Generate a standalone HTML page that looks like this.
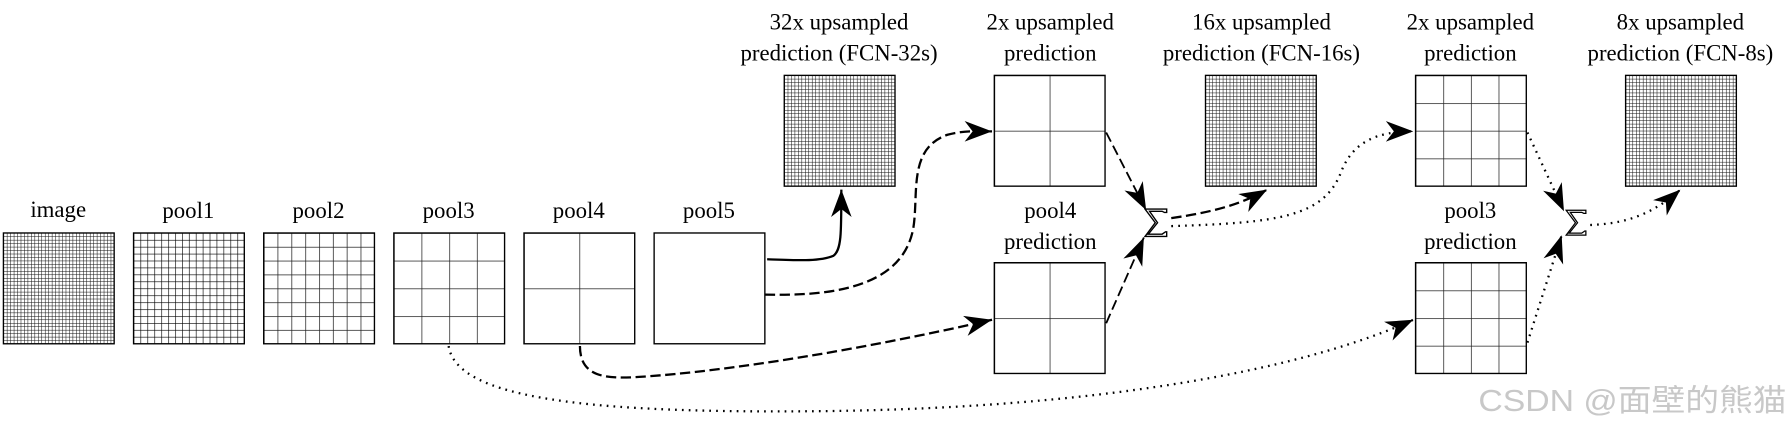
<!DOCTYPE html>
<html><head><meta charset="utf-8"><style>
html,body{margin:0;padding:0;background:#fff;}
svg{display:block}
text{font-family:"Liberation Serif","DejaVu Serif",serif;font-size:20px;fill:#000;text-anchor:middle}
</style></head><body>
<svg width="1790" height="426" viewBox="0 0 1568 373" preserveAspectRatio="none" xmlns="http://www.w3.org/2000/svg">
<defs>
<pattern id="g32" patternUnits="userSpaceOnUse" width="3.03125" height="3.03125"><path d="M0,0H3.03125M0,0V3.03125" stroke="#111" stroke-width="0.9" fill="none"/></pattern>
<pattern id="g16" patternUnits="userSpaceOnUse" width="6.0625" height="6.0625"><path d="M0,0H6.0625M0,0V6.0625" stroke="#000" stroke-width="1.1" fill="none"/></pattern>
<pattern id="g8" patternUnits="userSpaceOnUse" width="12.125" height="12.125"><path d="M0,0H12.125M0,0V12.125" stroke="#222" stroke-width="1.3" fill="none"/></pattern>
<pattern id="g4" patternUnits="userSpaceOnUse" width="24.25" height="24.25"><path d="M0,0H24.25M0,0V24.25" stroke="#222" stroke-width="1.3" fill="none"/></pattern>
<pattern id="g2" patternUnits="userSpaceOnUse" width="48.5" height="48.5"><path d="M0,0H48.5M0,0V48.5" stroke="#222" stroke-width="1.3" fill="none"/></pattern>
<marker id="ar" markerUnits="userSpaceOnUse" markerWidth="30" markerHeight="22" refX="24" refY="9" orient="auto"><path d="M0,0 L24,9 L0,18 L7,9 Z" fill="#000"/></marker>
<symbol id="sig" viewBox="0 0 22 26"><path d="M1,1 H20 V4 H18 L16,3 H5 L12,13 L4,23 H16 L19,21 H20 V25 H1 L10,13 Z" fill="#fff" stroke="#000" stroke-width="1.2"/></symbol>
</defs>

<g transform="translate(3,204)"><rect width="97" height="97" fill="url(#g32)"/><rect width="97" height="97" fill="none" stroke="#000" stroke-width="1.2"/></g>
<g transform="translate(117,204)"><rect width="97" height="97" fill="url(#g16)"/><rect width="97" height="97" fill="none" stroke="#000" stroke-width="1.2"/></g>
<g transform="translate(231,204)"><rect width="97" height="97" fill="url(#g8)"/><rect width="97" height="97" fill="none" stroke="#000" stroke-width="1.2"/></g>
<g transform="translate(345,204)"><rect width="97" height="97" fill="url(#g4)"/><rect width="97" height="97" fill="none" stroke="#000" stroke-width="1.2"/></g>
<g transform="translate(459,204)"><rect width="97" height="97" fill="url(#g2)"/><rect width="97" height="97" fill="none" stroke="#000" stroke-width="1.2"/></g>
<rect x="573" y="204" width="97" height="97" fill="none" stroke="#000" stroke-width="1.2"/>
<text x="51" y="190">image</text>
<text x="165" y="191">pool1</text>
<text x="279" y="191">pool2</text>
<text x="393" y="191">pool3</text>
<text x="507" y="191">pool4</text>
<text x="621" y="191">pool5</text>

<g transform="translate(687,66)"><rect width="97" height="97" fill="url(#g32)"/><rect width="97" height="97" fill="none" stroke="#000" stroke-width="1.2"/></g>
<g transform="translate(871,66)"><rect width="97" height="97" fill="url(#g2)"/><rect width="97" height="97" fill="none" stroke="#000" stroke-width="1.2"/></g>
<g transform="translate(871,230)"><rect width="97" height="97" fill="url(#g2)"/><rect width="97" height="97" fill="none" stroke="#000" stroke-width="1.2"/></g>
<g transform="translate(1056,66)"><rect width="97" height="97" fill="url(#g32)"/><rect width="97" height="97" fill="none" stroke="#000" stroke-width="1.2"/></g>
<g transform="translate(1240,66)"><rect width="97" height="97" fill="url(#g4)"/><rect width="97" height="97" fill="none" stroke="#000" stroke-width="1.2"/></g>
<g transform="translate(1240,230)"><rect width="97" height="97" fill="url(#g4)"/><rect width="97" height="97" fill="none" stroke="#000" stroke-width="1.2"/></g>
<g transform="translate(1424,66)"><rect width="97" height="97" fill="url(#g32)"/><rect width="97" height="97" fill="none" stroke="#000" stroke-width="1.2"/></g>

<text x="735" y="26">32x upsampled</text>
<text x="735" y="53">prediction (FCN-32s)</text>
<text x="920" y="26">2x upsampled</text>
<text x="920" y="53">prediction</text>
<text x="920" y="191">pool4</text>
<text x="920" y="218">prediction</text>
<text x="1105" y="26">16x upsampled</text>
<text x="1105" y="53">prediction (FCN-16s)</text>
<text x="1288" y="26">2x upsampled</text>
<text x="1288" y="53">prediction</text>
<text x="1288" y="191">pool3</text>
<text x="1288" y="218">prediction</text>
<text x="1472" y="26">8x upsampled</text>
<text x="1472" y="53">prediction (FCN-8s)</text>

<use href="#sig" x="1002" y="182" width="22" height="26"/>
<use href="#sig" x="1371" y="183" width="20" height="24"/>

<g fill="none" stroke="#000" stroke-width="2">
<path d="M672,227 C700,228 718,229 730,224 C737,219 737,205 737,166" marker-end="url(#ar)"/>
<path d="M670,258 C720,259 790,255 800,200 C805,170 795,130 830,118 C845,114 855,115 869,115" stroke-dasharray="9,4" marker-end="url(#ar)"/>
<path d="M508,303 C508,330 530,332 560,330 C640,325 760,305 869,280" stroke-dasharray="9,4" marker-end="url(#ar)"/>
<path d="M969,116 L1004,184" stroke-dasharray="9,4" stroke-width="1.6" marker-end="url(#ar)"/>
<path d="M969,283 L1002,208" stroke-dasharray="9,4" stroke-width="1.6" marker-end="url(#ar)"/>
<path d="M1026,191 C1060,186 1085,180 1110,166" stroke-dasharray="9,4" marker-end="url(#ar)"/>
</g>
<g fill="none" stroke="#000" stroke-width="2" stroke-dasharray="1.5,4.5">
<path d="M393,303 C400,350 520,362 720,360 C980,357 1150,320 1238,280" marker-end="url(#ar)"/>
<path d="M1026,198 C1120,195 1160,190 1175,150 C1185,125 1205,115 1238,115" marker-end="url(#ar)"/>
<path d="M1338,116 L1370,185" marker-end="url(#ar)"/>
<path d="M1338,300 L1368,206" marker-end="url(#ar)"/>
<path d="M1393,197 C1420,196 1445,190 1472,166" marker-end="url(#ar)"/>
</g>

<text x="1295" y="360" textLength="270" lengthAdjust="spacingAndGlyphs" style="text-anchor:start;font-family:'Liberation Sans','Noto Sans CJK SC',sans-serif;font-size:27px;fill:#c8c8c8">CSDN @面壁的熊猫</text>
</svg>
</body></html>
